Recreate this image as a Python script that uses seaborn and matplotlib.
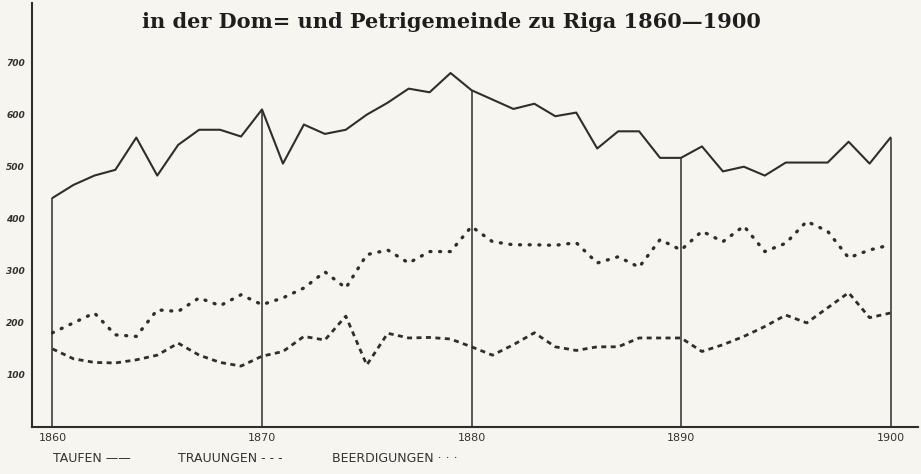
import pandas as pd
import seaborn as sns
import matplotlib.pyplot as plt

# values
years = list(range(1860, 1901))
taufen = [440, 465, 483, 494, 556, 483, 542, 571, 571, 558,
          610, 506, 581, 563, 571, 600, 623, 650, 643, 680,
          647, 629, 611, 621, 597, 604, 535, 568, 568, 517,
          517, 539, 491, 500, 483, 508, 508, 508, 548, 506, 556]
trauungen = [150, 131, 124, 123, 129, 138, 161, 138, 124, 117,
             136, 145, 174, 167, 213, 119, 180, 171, 172, 169,
             154, 138, 158, 181, 154, 147, 154, 154, 171, 171,
             171, 145, 158, 174, 193, 215, 200, 229, 258, 210, 219]
beerdigungen = [181, 200, 219, 177, 174, 225, 222, 248, 233, 254,
                235, 248, 267, 298, 267, 331, 340, 315, 337, 337,
                385, 356, 350, 350, 349, 354, 315, 327, 307, 360,
                340, 376, 356, 386, 337, 353, 395, 376, 325, 340, 350]
decades = [1860, 1870, 1880, 1890, 1900]
y_ticks = [100, 200, 300, 400, 500, 600, 700]

data = pd.DataFrame({"year": years, "taufen": taufen,
                     "trauungen": trauungen, "beerdigungen": beerdigungen})

sns.set_theme(style="white")
paper = "#f7f5ef"
ink = "#2e2e2e"

fig = plt.figure(figsize=(9.21, 4.74), dpi=100, facecolor=paper)
ax = fig.add_axes([0.0347, 0.0992, 0.962, 0.895], facecolor=paper)

sns.lineplot(x="year", y="taufen", data=data, ax=ax, color=ink, lw=1.5)
sns.lineplot(x="year", y="trauungen", data=data, ax=ax, color=ink, lw=2.0,
             linestyle=(0, (1.8, 1.6)))
sns.lineplot(x="year", y="beerdigungen", data=data, ax=ax, color=ink, lw=2.4,
             linestyle=(0, (0.3, 2.6)), dash_capstyle="round")

# vertical rules at each decade, up to the Taufen line
dec_vals = [taufen[years.index(d)] for d in decades]
ax.vlines(decades, 0, dec_vals, color=ink, lw=1.1)

ax.set_xlim(1859.02, 1901.31)
ax.set_ylim(0, 815)
ax.set_xticks(decades)
ax.set_xticklabels([str(d) for d in decades], fontsize=8, color="#333333",
                   family="DejaVu Sans Condensed")
ax.set_yticks(y_ticks)
ax.set_yticklabels([str(v) for v in y_ticks], fontsize=6.5, color="#333333",
                   fontweight="bold", fontstyle="italic")
ax.tick_params(axis="both", length=0)
ax.tick_params(axis="x", pad=4)
ax.tick_params(axis="y", pad=5)
ax.set_xlabel("")
ax.set_ylabel("")

for side in ["top", "right"]:
    ax.spines[side].set_visible(False)
for side in ["left", "bottom"]:
    ax.spines[side].set_color(ink)
    ax.spines[side].set_linewidth(1.5)

# title
fig.text(0.49, 0.953, "in der Dom= und Petrigemeinde zu Riga 1860\u20141900",
         ha="center", va="center", fontsize=15, fontweight="bold",
         family="DejaVu Serif", color="#1e1e1e")

# legend written under the axis
leg_kw = dict(va="center", ha="left", fontsize=9, color="#333333",
              family="DejaVu Sans Condensed")
fig.text(53 / 921, 1 - 459 / 474, "TAUFEN \u2014\u2014", **leg_kw)
fig.text(178 / 921, 1 - 459 / 474, "TRAUUNGEN - - -", **leg_kw)
fig.text(332 / 921, 1 - 459 / 474, "BEERDIGUNGEN \u00b7 \u00b7 \u00b7", **leg_kw)

plt.savefig("out.png", dpi=100, facecolor=paper)
